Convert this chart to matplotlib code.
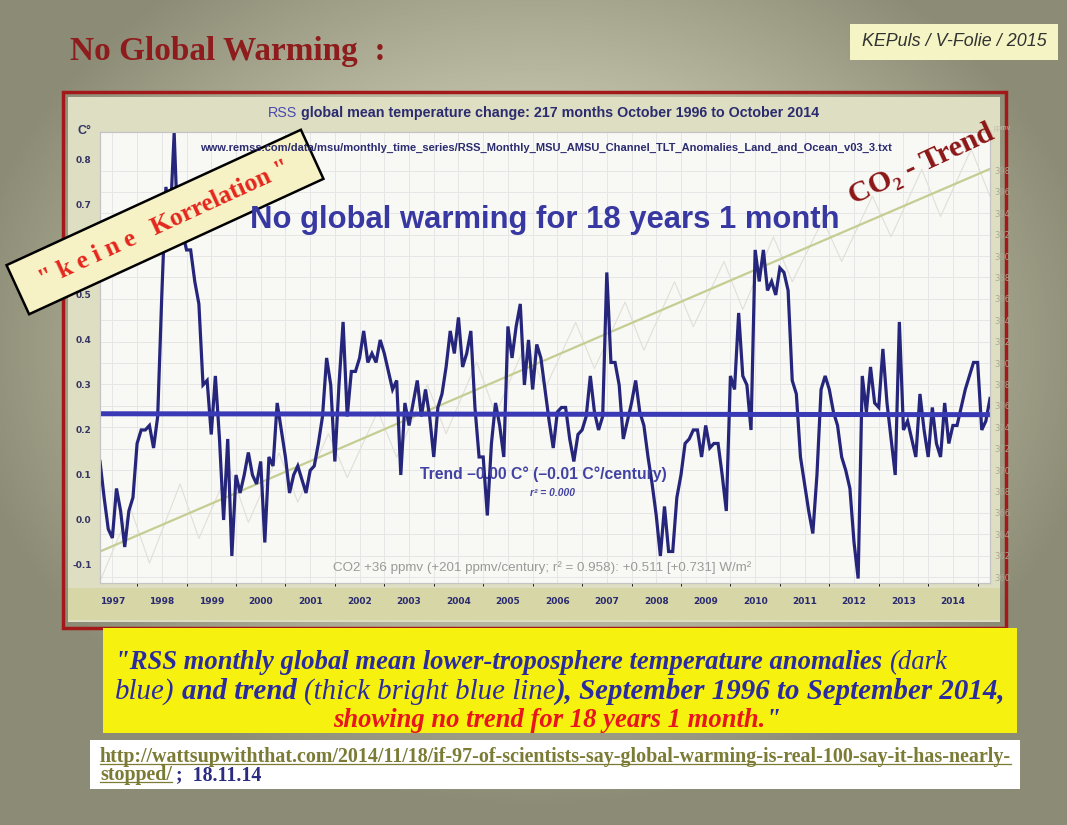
import numpy as np
import matplotlib.pyplot as plt
from matplotlib.colors import LinearSegmentedColormap
from matplotlib.patches import Rectangle, Polygon

# RSS TLT monthly anomalies (C), October 1996 .. October 2014 (217 months)
rss_anom = [
    0.13, 0.05, -0.02, -0.04, 0.07, 0.02, -0.06, 0.02, 0.05, 0.17, 0.20, 0.20,
    0.21, 0.16, 0.23, 0.50, 0.74, 0.66, 0.86, 0.61, 0.64, 0.60, 0.60, 0.53,
    0.48, 0.30, 0.31, 0.19, 0.32, 0.18, 0.00, 0.18, -0.08, 0.10, 0.06, 0.10,
    0.15, 0.10, 0.08, 0.13, -0.05, 0.14, 0.12, 0.26, 0.20, 0.14, 0.06, 0.10,
    0.12, 0.09, 0.06, 0.11, 0.12, 0.17, 0.23, 0.36, 0.30, 0.13, 0.30, 0.44,
    0.23, 0.33, 0.33, 0.36, 0.42, 0.35, 0.37, 0.35, 0.40, 0.37, 0.33, 0.29,
    0.31, 0.10, 0.26, 0.21, 0.26, 0.31, 0.23, 0.29, 0.23, 0.14, 0.25, 0.28,
    0.34, 0.42, 0.37, 0.45, 0.34, 0.37, 0.42, 0.25, 0.14, 0.14, 0.01, 0.17,
    0.26, 0.21, 0.14, 0.43, 0.36, 0.43, 0.48, 0.30, 0.40, 0.29, 0.39, 0.36,
    0.29, 0.22, 0.16, 0.24, 0.25, 0.25, 0.18, 0.13, 0.19, 0.20, 0.23, 0.32,
    0.24, 0.20, 0.23, 0.55, 0.35, 0.35, 0.30, 0.18, 0.22, 0.26, 0.31, 0.24,
    0.21, 0.14, 0.08, 0.01, -0.08, 0.03, -0.07, -0.07, 0.05, 0.10, 0.17, 0.18,
    0.20, 0.20, 0.14, 0.21, 0.16, 0.17, 0.17, 0.10, 0.02, 0.32, 0.29, 0.46,
    0.32, 0.30, 0.20, 0.60, 0.53, 0.60, 0.51, 0.53, 0.50, 0.56, 0.55, 0.51,
    0.31, 0.28, 0.14, 0.08, 0.02, -0.03, 0.10, 0.29, 0.32, 0.29, 0.24, 0.21,
    0.14, 0.11, 0.07, -0.05, -0.13, 0.32, 0.24, 0.34, 0.26, 0.25, 0.38, 0.26,
    0.18, 0.10, 0.44, 0.20, 0.22, 0.18, 0.14, 0.28, 0.20, 0.14, 0.25, 0.17,
    0.14, 0.26, 0.17, 0.21, 0.21, 0.25, 0.29, 0.32, 0.35, 0.35, 0.20, 0.22,
    0.27,
]
start = 1996.75
trend_ends = [0.236, 0.234]          # least-squares trend, start/end
co2_trend_ends = [-0.07, 0.78]       # CO2 trend drawn on the temperature scale

# Mauna Loa CO2 (ppmv), seasonal highs/lows
co2_dates = [1996.75, 1997.37, 1997.75, 1998.37, 1998.75, 1999.37, 1999.75, 2000.37,
             2000.75, 2001.37, 2001.75, 2002.37, 2002.75, 2003.37, 2003.75, 2004.37,
             2004.75, 2005.37, 2005.75, 2006.37, 2006.75, 2007.37, 2007.75, 2008.37,
             2008.75, 2009.37, 2009.75, 2010.37, 2010.75, 2011.37, 2011.75, 2012.37,
             2012.75, 2013.37, 2013.75, 2014.37, 2014.75]
co2_ppm = [359.6, 366.4, 361.3, 368.7, 363.6, 370.2, 365.1, 371.6, 367.0, 373.4,
           369.3, 375.5, 371.2, 378.0, 373.4, 380.1, 375.2, 381.9, 377.6, 383.8,
           379.5, 385.7, 381.2, 387.6, 383.4, 389.5, 385.0, 391.8, 387.6, 393.4,
           389.5, 395.6, 391.8, 398.1, 393.7, 400.0, 395.6]

years = list(range(1997, 2015))
temp_ticks = [-0.1, 0.0, 0.1, 0.2, 0.3, 0.4, 0.5, 0.6, 0.7, 0.8]
ppm_ticks = list(range(360, 400, 2))

W, H = 1067, 825
fig = plt.figure(figsize=(W / 100, H / 100), dpi=100)
rend = fig.canvas.get_renderer()

# slide background
bg = fig.add_axes([0, 0, 1, 1])
bg.set_zorder(0)
yy, xx = np.mgrid[0:H, 0:W]
rad = np.sqrt(((xx - W / 2) / (W * 0.6)) ** 2 + ((yy - H * 0.42) / (H * 0.62)) ** 2)
cmap = LinearSegmentedColormap.from_list('v', ['#d2d2bc', '#bcbca4', '#8c8c76'])
bg.imshow(rad, cmap=cmap, extent=[0, W, H, 0], aspect='auto', vmin=0.1, vmax=0.9)
bg.set_xlim(0, W)
bg.set_ylim(H, 0)
bg.axis('off')
bg.add_patch(Rectangle((68, 97), 932, 525, fc='#dedec2', ec='none'))
bg.add_patch(Rectangle((68, 588), 932, 32, fc='#d6d6a6', ec='none'))
bg.add_patch(Rectangle((63, 92), 943, 536, fc='none', ec='#a3191a', lw=2.5))
bg.add_patch(Rectangle((103, 628), 914, 105, fc='#f6f10e', ec='none'))
bg.add_patch(Rectangle((90, 740), 930, 49, fc='white', ec='none'))
bg.add_patch(Rectangle((850, 24), 208, 36, fc='#f4f4c4', ec='none'))

# chart
L, R, T, B = 100, 990, 132, 583
ax2 = fig.add_axes([L / W, 1 - B / H, (R - L) / W, (B - T) / H])
ax2.set_zorder(2)
ax = ax2.twinx()
ax.set_zorder(3)
ax.patch.set_visible(False)
ax2.set_facecolor('#f8f8f4')

dates = start + np.arange(len(rss_anom)) / 12
end = dates[-1]

ax2.plot(co2_dates, co2_ppm, color='#e0e0d8', lw=0.8)
ax2.set_ylim(359.44, 401.6)
ax2.set_yticks(ppm_ticks)
ax2.yaxis.tick_right()
ax2.tick_params(axis='y', length=0, pad=3, labelsize=6, labelcolor='#aaa892')
ax2.tick_params(axis='x', length=0, pad=10, labelsize=6.5, labelcolor='#2a2a70')
ax2.set_xticks(years)
ax2.set_xticklabels([str(y) for y in years], fontweight='bold')
ax2.set_xticks(np.arange(1997.5, 2014.6, 1), minor=True)
ax2.grid(True, which='both', color='#e6e6e6', lw=0.7)

ax.plot([start, end], co2_trend_ends, color='#c5cd92', lw=1.6)
ax.plot(dates, rss_anom, color='#25257b', lw=2.3, solid_joinstyle='miter')
ax.plot([start, end], trend_ends, color='#3a3ab6', lw=3.6)
ax.set_xlim(start, end)
ax.set_ylim(-0.14, 0.862)
ax.set_yticks(temp_ticks)
ax.yaxis.tick_left()
ax.set_yticklabels([f'{v:.1f}' for v in temp_ticks], fontweight='bold')
ax.tick_params(axis='y', length=0, pad=6, labelsize=6.5, labelcolor='#353565')
for a in (ax, ax2):
    for s in a.spines.values():
        s.set_color('#c4c4c4')
        s.set_linewidth(0.8)

# overlay for text and annotations, 1 unit = 1 pixel
ov = fig.add_axes([0, 0, 1, 1])
ov.set_zorder(5)
ov.patch.set_visible(False)
ov.set_xlim(0, W)
ov.set_ylim(H, 0)
ov.axis('off')


def fit(t, width):
    w = t.get_window_extent(rend).width
    t.set_fontsize(t.get_fontsize() * width / w)
    return t


def seg_line(x0, y, segs, width, family, size=18, style='italic'):
    def lay(sz):
        out, x = [], x0
        for s, wt, col, gap in segs:
            if gap:
                x += sz * 0.25 * 100 / 72
            t = ov.text(x, y, s, fontsize=sz, fontweight=wt, fontstyle=style, color=col,
                        family=family, va='baseline', ha='left')
            out.append(t)
            x = t.get_window_extent(rend).x1
        return out, x - x0
    texts, w = lay(size)
    for t in texts:
        t.remove()
    texts, w = lay(size * width / w)
    return texts


fit(ov.text(70, 60, 'No Global Warming  :', color='#8e1c1c', fontweight='bold',
            family='Liberation Serif', fontsize=20, va='baseline'), 315)
fit(ov.text(954, 42, 'KEPuls / V-Folie / 2015', color='#333333', fontstyle='italic',
            family='Liberation Sans', fontsize=11, ha='center', va='center'), 184)

navy = '#2b2b70'
seg_line(268, 117, [('RSS', 'normal', '#4848b0', False),
                    ('global mean temperature change: 217 months October 1996 to October 2014',
                     'bold', navy, True)], 552, 'Liberation Sans', 10, 'normal')
fit(ov.text(200, 148, 'www.remss.com/data/msu/monthly_time_series/RSS_Monthly_MSU_AMSU_Channel_TLT_Anomalies_Land_and_Ocean_v03_3.txt',
            color=navy, fontweight='bold', family='Liberation Sans', fontsize=7, va='center'), 687)
fit(ov.text(250, 220, 'No global warming for 18 years 1 month', color='#3838a2',
            fontweight='bold', family='Liberation Sans', fontsize=22, va='center'), 588)
fit(ov.text(420, 474, 'Trend \u20130.00 C\u00b0 (\u20130.01 C\u00b0/century)', color='#4242a4',
            fontweight='bold', family='Liberation Sans', fontsize=10, va='center'), 248)
fit(ov.text(530, 493, 'r\u00b2 = 0.000', color='#4242a4', fontstyle='italic', fontweight='bold',
            family='Liberation Sans', fontsize=7, va='center'), 45)
fit(ov.text(333, 568, 'CO2 +36 ppmv (+201 ppmv/century; r\u00b2 = 0.958): +0.511 [+0.731] W/m\u00b2',
            color='#9a9a9a', family='Liberation Sans', fontsize=8, va='center'), 420)
ov.text(77, 131, 'C\u00b0', color='#353565', fontweight='bold', family='Liberation Sans',
        fontsize=9, va='center')
ov.text(994, 128, 'ppmv', color='#c0c0b0', family='Liberation Sans', fontsize=5, va='center')

# "keine Korrelation" label
ang = np.deg2rad(24.7)
cx, cy, bl, bw = 165, 222, 324, 54
u = np.array([np.cos(ang), -np.sin(ang)])
n = np.array([np.sin(ang), np.cos(ang)])
c = np.array([cx, cy])
corners = [c - u * bl / 2 - n * bw / 2, c + u * bl / 2 - n * bw / 2,
           c + u * bl / 2 + n * bw / 2, c - u * bl / 2 + n * bw / 2]
ov.add_patch(Polygon(corners, closed=True, fc='#f6f2c6', ec='black', lw=1.8))
kk = ov.text(cx, cy + 2, '" k e i n e   Korrelation "', color='#e4271d', fontweight='bold',
             family='Liberation Serif', fontsize=16, ha='center', va='center',
             rotation_mode='anchor')
fit(kk, 275)
kk.set_rotation(24.7)

co = ov.text(921, 165, 'CO\u2082 - Trend', color='#8b1616', fontweight='bold',
             family=['Liberation Serif', 'DejaVu Serif'], fontsize=16, ha='center',
             va='center', rotation_mode='anchor')
fit(co, 158)
co.set_rotation(25)

# caption
cap = '#2b2ba0'
red = '#e8141e'
seg_line(115, 669, [('"RSS monthly global mean lower-troposphere temperature anomalies', 'bold', cap, False),
                    ('(dark', 'normal', cap, True)], 833, 'Liberation Serif')
seg_line(115, 699, [('blue)', 'normal', cap, False), ('and trend', 'bold', cap, True),
                    ('(thick bright blue line', 'normal', cap, True),
                    ('), September 1996 to September 2014,', 'bold', cap, False)], 890,
         'Liberation Serif')
seg_line(333, 727, [('showing no trend for 18 years 1 month.', 'bold', red, False),
                    ('"', 'bold', cap, False)], 447, 'Liberation Serif')

# source link
olive = '#7b7b35'
u1 = fit(ov.text(100, 762, 'http://wattsupwiththat.com/2014/11/18/if-97-of-scientists-say-global-warming-is-real-100-say-it-has-nearly-',
                 color=olive, fontweight='bold', family='Liberation Serif', fontsize=10,
                 va='baseline'), 912)
bb = u1.get_window_extent(rend)
ov.plot([bb.x0, bb.x1], [764, 764], color=olive, lw=0.9)
u2 = ov.text(100, 780, 'stopped/', color=olive, fontweight='bold', family='Liberation Serif',
             fontsize=u1.get_fontsize(), va='baseline')
bb2 = u2.get_window_extent(rend)
ov.plot([bb2.x0, bb2.x1], [782, 782], color=olive, lw=0.9)
ov.text(bb2.x1 + 4, 780, ';  18.11.14', color='#2b2b80', fontweight='bold',
        family='Liberation Serif', fontsize=u1.get_fontsize(), va='baseline')

fig.savefig('out.png', dpi=100)
